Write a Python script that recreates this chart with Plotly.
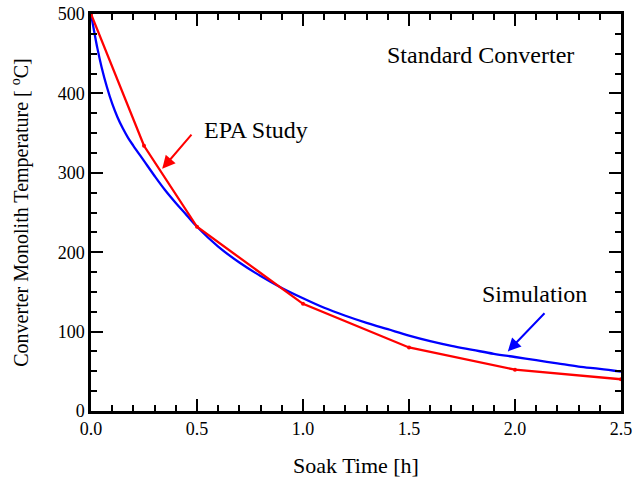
import plotly.graph_objects as go

# Simulation curve
sim_t = [0, 0.015, 0.03, 0.05, 0.075, 0.1, 0.125, 0.15, 0.175, 0.2, 0.25, 0.3, 0.35, 0.4, 0.45, 0.5,
         0.6, 0.7, 0.8, 0.9, 1.0, 1.1, 1.2, 1.3, 1.4, 1.5, 1.6, 1.7, 1.8, 1.9, 2.0,
         2.1, 2.2, 2.3, 2.4, 2.5]
sim_T = [500, 478, 457, 433, 408, 387, 370, 356, 344, 334, 315, 296, 278, 262, 247, 232,
         207, 187, 170, 155, 142, 130, 120, 111, 103, 95, 88, 82, 77, 72, 68,
         64, 60, 56, 53, 49.5]

# EPA study data
epa_t = [0, 0.25, 0.5, 1.0, 1.5, 2.0, 2.5]
epa_T = [500, 334, 232, 135, 80, 52, 40]

FONT = "Liberation Serif"

fig = go.Figure()
fig.add_trace(go.Scatter(x=sim_t, y=sim_T, mode="lines", line=dict(color="#0000ff", width=2.3),
                         name="Simulation", line_shape="spline"))
fig.add_trace(go.Scatter(x=epa_t, y=epa_T, mode="lines+markers", line=dict(color="#ff0000", width=2.3),
                         marker=dict(size=4, color="#ff0000"), name="EPA Study"))

axis_common = dict(showline=True, linecolor="black", linewidth=2.5, mirror="ticks",
                   ticks="inside", ticklen=12, tickwidth=2, tickcolor="black",
                   showgrid=False, zeroline=False, automargin=False,
                   tickfont=dict(family=FONT, size=18, color="black"))

fig.update_xaxes(range=[0, 2.5], dtick=0.5, tickformat=".1f",
                 minor=dict(dtick=0.1, ticks="inside", ticklen=6, tickwidth=2, tickcolor="black"),
                 title=dict(text="Soak Time [h]", font=dict(family=FONT, size=22, color="black"), standoff=20),
                 **axis_common)
fig.update_yaxes(range=[0, 500], dtick=100,
                 minor=dict(dtick=25, ticks="inside", ticklen=6, tickwidth=2, tickcolor="black"),
                 title=dict(text="Converter Monolith Temperature [ <sup>o</sup>C]",
                            font=dict(family=FONT, size=20, color="black"), standoff=24),
                 **axis_common)

ann_font = dict(family=FONT, size=24, color="black")
fig.add_annotation(x=1.838, y=448, text="Standard Converter", showarrow=False, font=ann_font)
fig.add_annotation(x=0.778, y=354, text="EPA Study", showarrow=False, font=ann_font)
fig.add_annotation(x=2.092, y=147, text="Simulation", showarrow=False, font=ann_font)
# arrows
fig.add_annotation(x=0.336, y=305, ax=0.48, ay=350, axref="x", ayref="y", text="",
                   showarrow=True, arrowhead=2, arrowsize=1.3, arrowwidth=2, arrowcolor="#ff0000")
fig.add_annotation(x=1.966, y=75, ax=2.146, ay=125, axref="x", ayref="y", text="",
                   showarrow=True, arrowhead=2, arrowsize=1.3, arrowwidth=2, arrowcolor="#0000ff")

fig.update_layout(width=634, height=489, margin=dict(l=91, r=13, t=14, b=78),
                  paper_bgcolor="white", plot_bgcolor="white", showlegend=False,
                  font=dict(family=FONT, color="black"))

fig.write_html("out.html")
